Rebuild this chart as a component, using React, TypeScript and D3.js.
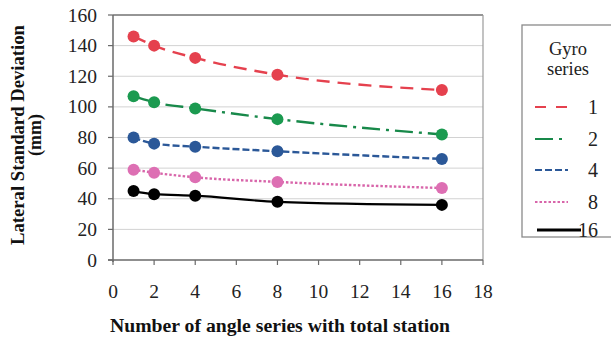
import React from "react";
import * as d3 from "d3";

const xValues = [1, 2, 4, 8, 16];
const seriesNames = ["1", "2", "4", "8", "16"];
const series1 = [146, 140, 132, 121, 111];
const series2 = [107, 103, 99, 92, 82];
const series4 = [80, 76, 74, 71, 66];
const series8 = [59, 57, 54, 51, 47];
const series16 = [45, 43, 42, 38, 36];
const xTicks = [0, 2, 4, 6, 8, 10, 12, 14, 16, 18];
const yTicks = [0, 20, 40, 60, 80, 100, 120, 140, 160];

const allSeries = [series1, series2, series4, series8, series16];
const colors = ["#e5414e", "#18894a", "#2b5898", "#d865aa", "#000000"];
const dashes = ["13,8", "18,6,3,6", "7,3", "2.5,2", ""];
const markerColors = ["#e5414e", "#1b9a50", "#2b5898", "#dd6fb3", "#000000"];

const FF = "Liberation Serif";

function T(props: any) {
  const { children, style, ...rest } = props;
  return (
    <text fontFamily={FF} style={{ fontFamily: FF, ...(style || {}) }} {...rest}>
      {children}
    </text>
  );
}

export default function App() {
  const W = 611, H = 342;
  const left = 113, right = 483, top = 15, bottom = 260;
  const x = d3.scaleLinear().domain([0, 18]).range([left, right]);
  const y = d3.scaleLinear().domain([0, 160]).range([bottom, top]);
  const line = d3
    .line<number>()
    .x((_, i) => x(xValues[i]))
    .y((d) => y(d))
    .curve(d3.curveMonotoneX);

  const legendYs = [107, 139, 170, 202, 230];

  return (
    <div style={{ position: "absolute", left: 0, top: 0, width: W, height: H }}>
      <svg width={W} height={H} style={{ display: "block", background: "#fff" }}>
        {yTicks.filter((t) => t > 0).map((t) => (
          <line key={"g" + t} x1={left} x2={right} y1={y(t)} y2={y(t)} stroke="#d2d2d2" strokeWidth={1} />
        ))}
        <line x1={left} x2={right} y1={top} y2={top} stroke="#7a7a7a" strokeWidth={1.5} />
        <line x1={right} x2={right} y1={top} y2={bottom} stroke="#9a9a9a" strokeWidth={1.2} />
        <line x1={left} x2={left} y1={top} y2={bottom + 2} stroke="#6a6a6a" strokeWidth={1.5} />
        <line x1={left - 5} x2={right} y1={bottom} y2={bottom} stroke="#6a6a6a" strokeWidth={1.5} />
        {yTicks.map((t) => (
          <g key={"y" + t}>
            <line x1={left - 5} x2={left} y1={y(t)} y2={y(t)} stroke="#6a6a6a" strokeWidth={1.2} />
            <T x={97} y={y(t) + 6.5} textAnchor="end" fontSize={19.5} fill="#222">
              {t}
            </T>
          </g>
        ))}
        {xTicks.map((t) => (
          <g key={"x" + t}>
            <line x1={x(t)} x2={x(t)} y1={bottom} y2={bottom + 5} stroke="#6a6a6a" strokeWidth={1.2} />
            <T x={x(t)} y={298} textAnchor="middle" fontSize={19.5} fill="#222">
              {t}
            </T>
          </g>
        ))}
        {allSeries.map((s, i) => (
          <path
            key={"l" + i}
            d={line(s) || ""}
            fill="none"
            stroke={colors[i]}
            strokeWidth={i === 4 ? 2.2 : 2.4}
            strokeDasharray={dashes[i]}
          />
        ))}
        {allSeries.map((s, i) =>
          s.map((v, j) => (
            <circle key={"c" + i + "-" + j} cx={x(xValues[j])} cy={y(v)} r={6} fill={markerColors[i]} />
          ))
        )}
        <T
          x={110}
          y={332}
          fontSize={18}
          fontWeight="bold"
          fill="#111"
          textLength={340}
          lengthAdjust="spacingAndGlyphs"
        >
          Number of angle series with total station
        </T>
        <T
          transform="translate(24,245) rotate(-90)"
          fontSize={18}
          fontWeight="bold"
          fill="#111"
          textLength={220}
          lengthAdjust="spacingAndGlyphs"
        >
          Lateral Standard Deviation
        </T>
        <T transform="translate(41,135) rotate(-90)" textAnchor="middle" fontSize={18} fontWeight="bold" fill="#111">
          (mm)
        </T>
        <rect x={522} y={25} width={110} height={212} fill="#fff" stroke="#8a8a8a" strokeWidth={1.3} />
        <T x={568} y={55} textAnchor="middle" fontSize={18.5} fill="#222">Gyro</T>
        <T x={568} y={75} textAnchor="middle" fontSize={18.5} fill="#222">series</T>
        {seriesNames.map((n, i) => (
          <g key={"lg" + i}>
            <line
              x1={i === 4 ? 537 : 535}
              x2={i === 4 ? 581 : 568}
              y1={legendYs[i]}
              y2={legendYs[i]}
              stroke={colors[i]}
              strokeWidth={i === 4 ? 2.8 : 2.2}
              strokeDasharray={i === 0 ? "11,10" : dashes[i]}
            />
            <T x={598} y={legendYs[i] + 6.5} textAnchor="end" fontSize={20} fill="#222">
              {n}
            </T>
          </g>
        ))}
      </svg>
    </div>
  );
}
